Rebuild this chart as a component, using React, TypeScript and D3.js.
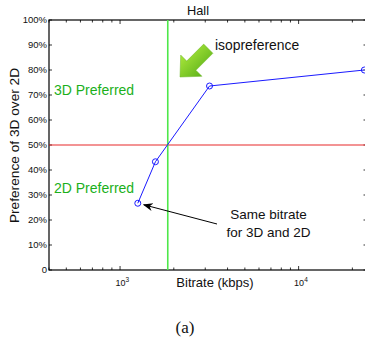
import React, { useEffect, useRef } from "react";
import * as d3 from "d3";

// measured points (bitrate in kbps, preference of 3D in %)
const bitrates = [1257, 1578, 3170, 23350];
const preference = [26.7, 43.3, 73.6, 80];
const isoBitrate = 1850; // green vertical line
const evenLevel = 50; // red horizontal line
const yTicks = [0, 10, 20, 30, 40, 50, 60, 70, 80, 90, 100];
const xMajor = [1000, 10000];
const xMajorExp = ["3", "4"];

export default function App() {
  const ref = useRef<SVGSVGElement>(null);

  useEffect(() => {
    const svg = d3.select(ref.current).html("");
    const font = "'Liberation Sans', Arial, sans-serif";

    const x = d3.scaleLog().domain([400, 24000]).range([49, 366.5]);
    const y = d3.scaleLinear().domain([0, 100]).range([270, 20]);
    const left = 49, right = 366.5, top = 20, bottom = 270;

    // box
    svg.append("rect")
      .attr("x", left).attr("y", top)
      .attr("width", right - left).attr("height", bottom - top)
      .attr("fill", "none").attr("stroke", "#000").attr("stroke-width", 1.2);

    // x ticks (log minor + major), inward on top and bottom
    const minor: number[] = [];
    [100, 1000, 10000].forEach((dec) => {
      for (let k = 1; k <= 9; k++) {
        const v = dec * k;
        if (v >= 400 && v <= 24000) minor.push(v);
      }
    });
    const tg = svg.append("g").attr("stroke", "#000").attr("stroke-width", 0.8);
    minor.forEach((v) => {
      const len = xMajor.includes(v) ? 4 : 2.5;
      tg.append("line").attr("x1", x(v)).attr("x2", x(v)).attr("y1", bottom).attr("y2", bottom - len);
      tg.append("line").attr("x1", x(v)).attr("x2", x(v)).attr("y1", top).attr("y2", top + len);
    });
    yTicks.forEach((v) => {
      tg.append("line").attr("x1", left).attr("x2", left + 3).attr("y1", y(v)).attr("y2", y(v));
      tg.append("line").attr("x1", right - 3).attr("x2", right).attr("y1", y(v)).attr("y2", y(v));
    });

    // y tick labels
    svg.append("g").selectAll("text").data(yTicks).enter().append("text")
      .attr("x", 47).attr("y", (d) => y(d) + 3.4)
      .attr("text-anchor", "end").attr("font-family", font).attr("font-size", 9.5)
      .attr("fill", "#111")
      .text((d) => (d === 0 ? "0" : d + "%"));

    // x tick labels 10^3, 10^4
    xMajor.forEach((v, i) => {
      const t = svg.append("text")
        .attr("x", x(v) - 4.5).attr("y", 286)
        .attr("font-family", font).attr("font-size", 9)
        .attr("fill", "#111");
      t.append("tspan").text("10");
      t.append("tspan").attr("dy", -4).attr("font-size", 6.5).text(xMajorExp[i]);
    });

    // reference lines
    svg.append("line")
      .attr("x1", left).attr("x2", right).attr("y1", y(evenLevel)).attr("y2", y(evenLevel))
      .attr("stroke", "#e8282a").attr("stroke-width", 1.2);
    svg.append("line")
      .attr("x1", x(isoBitrate)).attr("x2", x(isoBitrate)).attr("y1", top).attr("y2", bottom)
      .attr("stroke", "#4ee84a").attr("stroke-width", 1.6);

    // data line
    const pts = bitrates.map((b, i) => [b, preference[i]] as [number, number]);
    const line = d3.line<[number, number]>().x((d) => x(d[0])).y((d) => y(d[1]));
    svg.append("path").attr("d", line(pts)).attr("fill", "none")
      .attr("stroke", "#1a1aff").attr("stroke-width", 1);
    svg.append("g").selectAll("circle").data(pts).enter().append("circle")
      .attr("cx", (d) => x(d[0])).attr("cy", (d) => y(d[1])).attr("r", 3)
      .attr("fill", "none").attr("stroke", "#1a1aff").attr("stroke-width", 1);

    // labels
    svg.append("text").attr("x", 198).attr("y", 15).attr("text-anchor", "middle")
      .attr("font-family", font).attr("font-size", 12.8).attr("fill", "#111").text("Hall");
    svg.append("text").attr("transform", "translate(19,145.5) rotate(-90)")
      .attr("text-anchor", "middle").attr("font-family", font).attr("font-size", 13.7)
      .attr("fill", "#111").text("Preference of 3D over 2D");
    svg.append("text").attr("x", 215).attr("y", 287).attr("text-anchor", "middle")
      .attr("font-family", font).attr("font-size", 13).attr("fill", "#111").text("Bitrate (kbps)");
    svg.append("text").attr("x", 54).attr("y", 95)
      .attr("font-family", font).attr("font-size", 14).attr("fill", "#1bb01b").text("3D Preferred");
    svg.append("text").attr("x", 54).attr("y", 193)
      .attr("font-family", font).attr("font-size", 14).attr("fill", "#1bb01b").text("2D Preferred");
    svg.append("text").attr("x", 215).attr("y", 50)
      .attr("font-family", font).attr("font-size", 13.9).attr("fill", "#111").text("isopreference");
    svg.append("text").attr("x", 268.5).attr("y", 219).attr("text-anchor", "middle")
      .attr("font-family", font).attr("font-size", 13.5).attr("fill", "#111").text("Same bitrate");
    svg.append("text").attr("x", 268.5).attr("y", 237).attr("text-anchor", "middle")
      .attr("font-family", font).attr("font-size", 13.5).attr("fill", "#111").text("for 3D and 2D");

    // black annotation arrow
    svg.append("defs").append("marker")
      .attr("id", "ah").attr("viewBox", "0 0 10 10").attr("refX", 9).attr("refY", 5)
      .attr("markerWidth", 10).attr("markerHeight", 10).attr("orient", "auto")
      .attr("markerUnits", "userSpaceOnUse")
      .append("path").attr("d", "M0,1 L10,5 L0,9 L3,5 Z").attr("fill", "#000");
    const ax = x(bitrates[0]) + 6, ay = y(preference[0]) + 1.5;
    svg.append("line").attr("x1", 217).attr("y1", 224).attr("x2", ax).attr("y2", ay)
      .attr("stroke", "#000").attr("stroke-width", 1).attr("marker-end", "url(#ah)");

    // green isopreference arrow
    const grad = svg.select("defs").append("linearGradient").attr("id", "gg")
      .attr("x1", 0).attr("y1", 0).attr("x2", 0).attr("y2", 1);
    grad.append("stop").attr("offset", "0%").attr("stop-color", "#a8e63a");
    grad.append("stop").attr("offset", "100%").attr("stop-color", "#5fb31a");
    svg.append("path")
      .attr("transform", "translate(180,77) rotate(-45)")
      .attr("d", "M0,0 L16,-15 L16,-6.5 L40,-6.5 L40,6.5 L16,6.5 L16,15 Z")
      .attr("fill", "url(#gg)").attr("stroke", "#6fb82a").attr("stroke-width", 0.5);

    // caption
    svg.append("text").attr("x", 185).attr("y", 333).attr("text-anchor", "middle")
      .attr("font-family", "'Liberation Serif', 'Times New Roman', serif").attr("font-size", 17)
      .attr("fill", "#111").text("(a)");
  }, []);

  return (
    <svg ref={ref} width={365} height={341}
      style={{ position: "absolute", left: 0, top: 0, background: "#fff" }} />
  );
}
